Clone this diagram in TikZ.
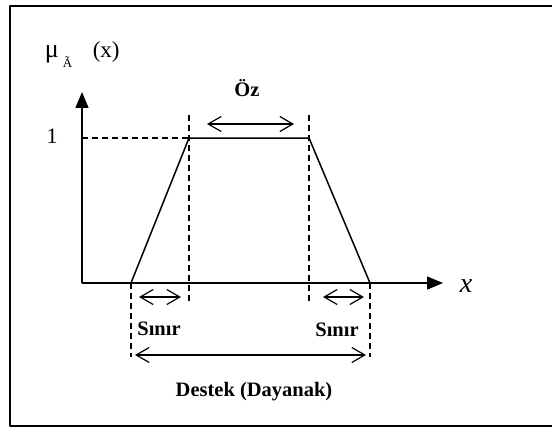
\documentclass[tikz,border=0pt]{standalone}
\usepackage{fontspec}
\setmainfont{Liberation Serif}
\usetikzlibrary{arrows.meta}
\tikzset{
  dash line/.style={dashed,dash pattern=on 6pt off 4pt,line width=1.4pt},
  dim arrow/.style={{Straight Barb[length=13pt,width=15pt]}-{Straight Barb[length=13pt,width=15pt]},line width=1.2pt},
  lbl/.style={font=\fontsize{20.5}{22}\selectfont\bfseries,inner sep=0pt,anchor=base}
}
\begin{document}
\begin{tikzpicture}[x=1pt,y=-1pt,line join=round,line width=1.5pt]
			\useasboundingbox (0,0) rectangle (552,428);
			\draw[line width=2.2pt] (553,6) -- (10,6) -- (10,426) -- (553,426);
			% eksenler
			\coordinate (o) at (82,283);
			\coordinate (ytip) at (82,92);
			\coordinate (xtip) at (443,283);
			\draw[-{Triangle[length=16pt,width=13pt]}] (o) -- (ytip);
			\draw[-{Triangle[length=16pt,width=13pt]}] (o) -- (xtip);
			\node[font=\fontsize{28}{30}\selectfont\itshape,inner sep=0pt,anchor=base] (xl) at (466,292) {x};
			\node[font=\fontsize{26}{28}\selectfont,inner sep=0pt,anchor=base west] (mu) at (44,58) {μ};
			\node[font=\fontsize{13}{14}\selectfont,inner sep=0pt,anchor=base west] (atil) at (62,68) {Ã};
			\node[font=\fontsize{23}{26}\selectfont,inner sep=0pt,anchor=base west] (px) at (92,58) {(x)};
			\node[font=\fontsize{22}{24}\selectfont,inner sep=0pt,anchor=base] (one) at (52,143) {1};
			% yamuk
			\coordinate (a) at (131,283);
			\coordinate (b) at (189,138);
			\coordinate (c) at (309,138);
			\coordinate (d) at (370,283);
			\draw (a) -- (b) -- (c) -- (d);
			\draw[dash line] (82,138) -- (b);
			\draw[dash line] (189,115) -- (189,304) (309,115) -- (309,304);
			\draw[dash line] (a) -- (131,357) (d) -- (370,357);
			% oklar
			\draw[dim arrow] (207,124) -- (294,124);
			\node[lbl] (oz) at (247,97) {Öz};
			\draw[dim arrow] (139,297) -- (181,297);
			\draw[dim arrow] (323,297) -- (364,297);
			\node[lbl] (s1) at (159,335) {Sınır};
			\node[lbl] (s2) at (337,336) {Sınır};
			\draw[dim arrow] (135,355) -- (366,355);
			\node[lbl] (destek) at (254,396) {Destek (Dayanak)};
		\end{tikzpicture}
\end{document}
